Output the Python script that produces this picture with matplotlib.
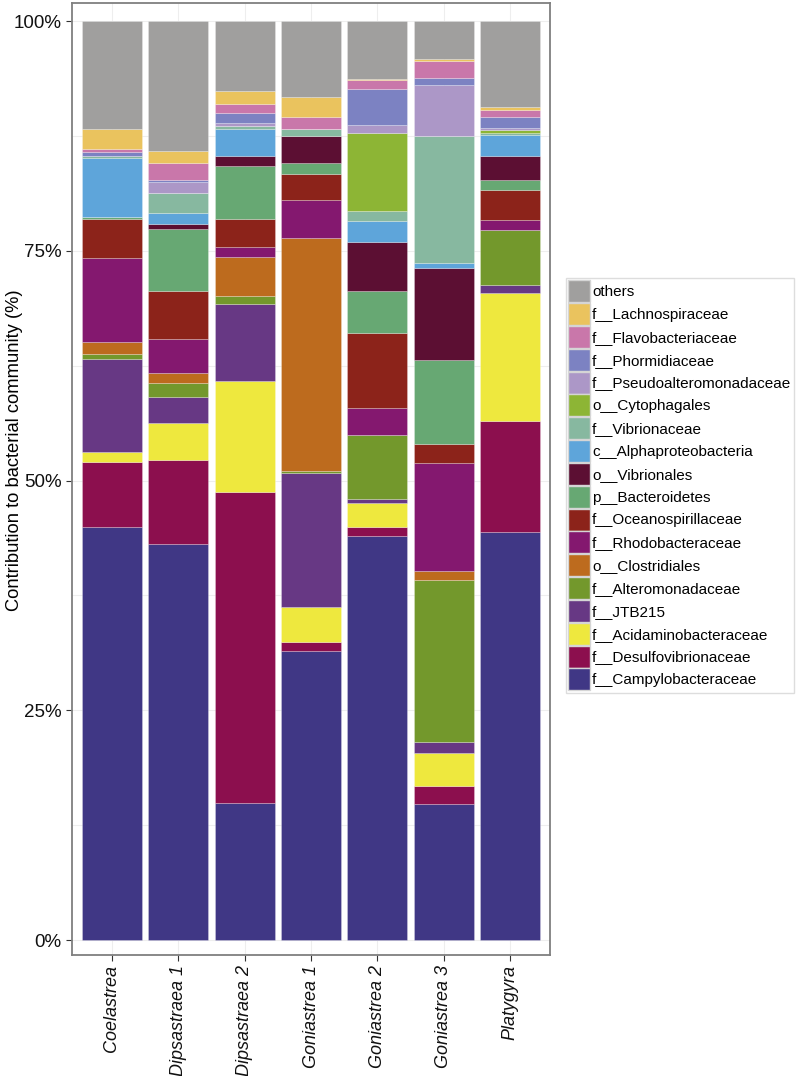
import numpy as np
import matplotlib
matplotlib.use("Agg")
import matplotlib.pyplot as plt
from matplotlib.patches import Patch

plt.rcParams['font.family'] = ['Liberation Sans', 'DejaVu Sans']

# samples (x axis)
samples = ["Coelastrea", "Dipsastraea 1", "Dipsastraea 2", "Goniastrea 1",
           "Goniastrea 2", "Goniastrea 3", "Platygyra"]

# relative abundance (%) per taxon
campylobacteraceae = [44.9, 43.05, 14.9, 31.5, 44.0, 14.8, 44.4]
desulfovibrionaceae = [7.1, 9.2, 33.8, 0.9, 0.9, 2.0, 12.1]
acidaminobacteraceae = [1.1, 4.0, 12.1, 3.8, 2.7, 3.6, 13.9]
jtb215 = [10.1, 2.8, 8.4, 14.6, 0.4, 1.2, 0.9]
alteromonadaceae = [0.6, 1.6, 0.9, 0.2, 7.0, 17.6, 6.0]
clostridiales = [1.3, 1.1, 4.2, 25.4, 0.0, 0.9, 0.0]
rhodobacteraceae = [9.1, 3.6, 1.1, 4.1, 2.9, 11.8, 1.1]
oceanospirillaceae = [4.3, 5.3, 3.1, 2.8, 8.1, 2.1, 3.2]
bacteroidetes = [0.2, 6.7, 5.7, 1.3, 4.6, 9.1, 1.1]
vibrionales = [0.0, 0.6, 1.1, 2.9, 5.4, 10.0, 2.6]
alphaproteobacteria = [6.4, 1.2, 3.0, 0.0, 2.2, 0.6, 2.3]
vibrionaceae = [0.2, 2.1, 0.25, 0.8, 1.1, 13.8, 0.2]
cytophagales = [0.0, 0.0, 0.0, 0.0, 8.5, 0.0, 0.3]
pseudoalteromonadaceae = [0.0, 1.2, 0.35, 0.0, 0.9, 5.5, 0.3]
phormidiaceae = [0.45, 0.25, 1.1, 0.0, 3.9, 0.8, 1.2]
flavobacteriaceae = [0.35, 1.8, 1.0, 1.3, 1.0, 1.9, 0.7]
lachnospiraceae = [2.1, 1.4, 1.4, 2.1, 0.1, 0.15, 0.3]
others = [11.8, 14.1, 7.6, 8.3, 6.3, 4.15, 9.4]

# stacking order, bottom to top
taxa = [
    ("f__Campylobacteraceae", campylobacteraceae, "#403785"),
    ("f__Desulfovibrionaceae", desulfovibrionaceae, "#8C0F4E"),
    ("f__Acidaminobacteraceae", acidaminobacteraceae, "#EEE83E"),
    ("f__JTB215", jtb215, "#673884"),
    ("f__Alteromonadaceae", alteromonadaceae, "#73982C"),
    ("o__Clostridiales", clostridiales, "#BD6B1E"),
    ("f__Rhodobacteraceae", rhodobacteraceae, "#84186F"),
    ("f__Oceanospirillaceae", oceanospirillaceae, "#8C231A"),
    ("p__Bacteroidetes", bacteroidetes, "#67A873"),
    ("o__Vibrionales", vibrionales, "#5C0F33"),
    ("c__Alphaproteobacteria", alphaproteobacteria, "#5EA5DA"),
    ("f__Vibrionaceae", vibrionaceae, "#87B8A0"),
    ("o__Cytophagales", cytophagales, "#8DB535"),
    ("f__Pseudoalteromonadaceae", pseudoalteromonadaceae, "#AC97C7"),
    ("f__Phormidiaceae", phormidiaceae, "#7C82C2"),
    ("f__Flavobacteriaceae", flavobacteriaceae, "#C977AA"),
    ("f__Lachnospiraceae", lachnospiraceae, "#EAC35E"),
    ("others", others, "#A09F9E"),
]

fig = plt.figure(figsize=(7.99, 10.76), dpi=100)
ax = fig.add_axes([72 / 799, 1 - 955 / 1076, 478 / 799, 952 / 1076])

x = np.arange(len(samples))
bottom = np.zeros(len(samples))
for name, vals, col in taxa:
    vals = np.array(vals)
    ax.bar(x, vals, bottom=bottom, width=0.9, color=col,
           edgecolor=(1, 1, 1, 0.35), linewidth=0.5, zorder=2)
    bottom += vals

ax.set_xlim(-0.603, len(samples) - 1 + 0.603)
ax.set_ylim(-1.63, 101.96)
ax.set_yticks([0, 25, 50, 75, 100])
ax.set_yticklabels(["0%", "25%", "50%", "75%", "100%"])
ax.set_xticks(x)
ax.set_xticklabels(samples, rotation=90, style="italic", va="top", ha="center")
ax.tick_params(axis="both", labelsize=13, colors="#333333", length=4,
               width=0.8, labelcolor="#111111")
ax.tick_params(axis="y", labelsize=13.5)
ax.set_yticks([12.5, 37.5, 62.5, 87.5], minor=True)
ax.tick_params(axis="y", which="minor", length=0)
ax.grid(True, which="both", color="#EEEEEE", linewidth=0.8, zorder=0)
ax.set_axisbelow(True)
for sp in ax.spines.values():
    sp.set_color("#7F7F7F")
    sp.set_linewidth(1.3)

fig.text(15 / 799, 1 - 450 / 1076, "Contribution to bacterial community (%)",
         rotation=90, ha="center", va="center", fontsize=13.2)

handles = [Patch(facecolor=col, edgecolor="#D5D5D5", linewidth=1.0, label=name)
           for name, vals, col in taxa[::-1]]
leg = fig.legend(handles=handles, loc="upper left",
                 bbox_to_anchor=(566 / 799, 1 - 278 / 1076),
                 fontsize=11, frameon=True, fancybox=False,
                 handlelength=1.4, handleheight=1.83, labelspacing=0.06,
                 handletextpad=0.15, borderpad=0.15, borderaxespad=0)
leg.get_frame().set_edgecolor("#D5D5D5")
leg.get_frame().set_linewidth(1.0)

fig.savefig("out.png", dpi=100)
